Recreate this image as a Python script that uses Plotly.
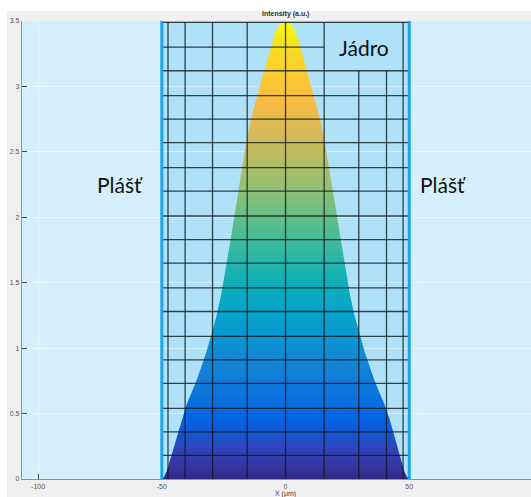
import plotly.graph_objects as go

# ---- data ----
x_um = [-50, -49, -48, -46, -44, -42, -40, -38, -36, -34, -32, -30, -28, -26, -24, -22, -20, -18, -16,
        -14, -12, -10, -8, -6, -4, -2, 0,
        2, 4, 6, 8, 10, 12, 14, 16, 18, 20, 22, 24, 26, 28, 30, 32, 34, 36, 38, 40, 42, 44, 46, 48, 49, 50]
intensity = [0.00, 0.02, 0.06, 0.19, 0.33, 0.46, 0.57, 0.66, 0.75, 0.86, 0.97, 1.10, 1.24, 1.41, 1.62, 1.85, 2.09, 2.33, 2.56,
             2.75, 2.90, 3.03, 3.16, 3.30, 3.42, 3.48, 3.50,
             3.48, 3.42, 3.30, 3.16, 3.03, 2.90, 2.75, 2.56, 2.33, 2.09, 1.85, 1.62, 1.41, 1.24, 1.10, 0.97, 0.86, 0.75,
             0.66, 0.57, 0.46, 0.33, 0.19, 0.06, 0.02, 0.00]

mesh_x = [-47.5, -40.6, -29.5, -15.5, 0.0, 15.6, 29.6, 40.8, 47.5]
mesh_y = [0.18, 0.36, 0.54, 0.73, 0.91, 1.09, 1.28, 1.46, 1.65, 1.83,
          2.01, 2.20, 2.38, 2.57, 2.75, 2.93, 3.12, 3.30, 3.49]
core_edges = [-50, 50]
label_box = {"x0": 15.6, "y0": 3.12}

x_ticks = [-100, -50, 0, 50]
y_ticks = [0, 0.5, 1, 1.5, 2, 2.5, 3, 3.5]
y_ticktext = ["0", "0.5", "1", "1.5", "2", "2.5", "3", "3.5"]

# MATLAB parula (R2014a) sampled every 4th of 64 rows
parula_hex = ["#352a87", "#3243ba", "#0363e1", "#0d75dc", "#1485d4", "#0998d1", "#06a7c6", "#15b1b4",
              "#38b99e", "#65be86", "#92bf73", "#b7bd64", "#d9ba56", "#f8bb44", "#fcce2e", "#f5e41d",
              "#f9fb0e"]
parula_pos = [0, 4, 8, 12, 16, 20, 24, 28, 32, 36, 40, 44, 48, 52, 56, 60, 63]
parula = [[p / 63, c] for p, c in zip(parula_pos, parula_hex)]

OUTER_BG = "#d5f0fc"
CORE_BG = "#afe2f8"
EDGE_BLUE = "#1aa6e8"
MESH = "rgba(10,20,25,0.78)"

fig = go.Figure()
fig.add_trace(go.Scatter(
    x=x_um, y=intensity, mode="lines", line=dict(width=0),
    fill="tozeroy",
    fillgradient=dict(type="vertical", colorscale=parula, start=0, stop=3.5),
    hoverinfo="skip", showlegend=False,
))

shapes = []
shapes.append(dict(type="rect", xref="x", yref="y", x0=core_edges[0], x1=core_edges[1], y0=0, y1=3.5,
                   fillcolor=CORE_BG, line=dict(width=0), layer="below"))
for xv in mesh_x:
    top = mesh_y[-1]
    if label_box["x0"] < xv < mesh_x[-1]:
        top = label_box["y0"]
    shapes.append(dict(type="line", xref="x", yref="y", x0=xv, x1=xv, y0=0, y1=top,
                       line=dict(color=MESH, width=1.3), layer="above"))
for yv in mesh_y:
    x1 = core_edges[1]
    if label_box["y0"] < yv < mesh_y[-1]:
        x1 = label_box["x0"]
    shapes.append(dict(type="line", xref="x", yref="y", x0=core_edges[0], x1=x1, y0=yv, y1=yv,
                       line=dict(color=MESH, width=1.3), layer="above"))
for xv in core_edges:
    shapes.append(dict(type="line", xref="x", yref="y", x0=xv, x1=xv, y0=0, y1=3.5,
                       line=dict(color=EDGE_BLUE, width=3), layer="above"))
shapes.append(dict(type="rect", xref="paper", yref="paper", x0=-0.1, x1=1.1, y0=1.0218, y1=1.1,
                   fillcolor="white", line=dict(width=0), layer="below"))
shapes.append(dict(type="rect", xref="paper", yref="paper", x0=-0.1, x1=-0.0295, y0=-0.1, y1=1.1,
                   fillcolor="white", line=dict(width=0), layer="below"))

TEXT_FONT = "Lato, 'Open Sans', sans-serif"
SMALL_FONT = "Arial, Liberation Sans"
annotations = [
    dict(text="<b>Intensity (a.u.)</b>", x=0, xref="x", y=1, yref="paper", yanchor="bottom", yshift=1,
         showarrow=False, font=dict(size=7, color="#333333", family=SMALL_FONT)),
    dict(text="X (μm)", x=0, xref="x", y=0, yref="paper", yanchor="top", yshift=-9,
         showarrow=False, font=dict(size=7, color="#444444", family=SMALL_FONT)),
    dict(text="100", x=100, xref="x", y=0, yref="paper", yanchor="top", yshift=-2,
         showarrow=False, font=dict(size=7, color="#555555", family=SMALL_FONT)),
    dict(text="Jádro", x=31.9, xref="x", y=3.30, yref="y", showarrow=False,
         font=dict(size=21, color="#111111", family=TEXT_FONT)),
    dict(text="Plášť", x=-67, xref="x", y=2.25, yref="y", showarrow=False,
         font=dict(size=21, color="#111111", family=TEXT_FONT)),
    dict(text="Plášť", x=63.5, xref="x", y=2.25, yref="y", showarrow=False,
         font=dict(size=21, color="#111111", family=TEXT_FONT)),
]

axis_common = dict(
    showline=True, linecolor="#8a949a", linewidth=1.2, mirror=False,
    ticks="inside", ticklen=5, tickwidth=1, tickcolor="#4a4a4a",
    showgrid=True, gridcolor="rgba(255,255,255,0.45)", gridwidth=1, zeroline=False,
    tickfont=dict(size=7, color="#555555", family=SMALL_FONT),
    fixedrange=True,
)

fig.update_layout(
    width=531, height=497,
    margin=dict(l=22, r=0, t=21, b=18, pad=0),
    paper_bgcolor="#f0f0f0", plot_bgcolor=OUTER_BG,
    shapes=shapes, annotations=annotations, showlegend=False,
    xaxis=dict(range=[-106.5, 99.2], tickvals=x_ticks, ticktext=[str(v) for v in x_ticks], **axis_common),
    yaxis=dict(range=[0, 3.5], tickvals=y_ticks, ticktext=y_ticktext, **axis_common),
)

fig.write_html("out.html")
